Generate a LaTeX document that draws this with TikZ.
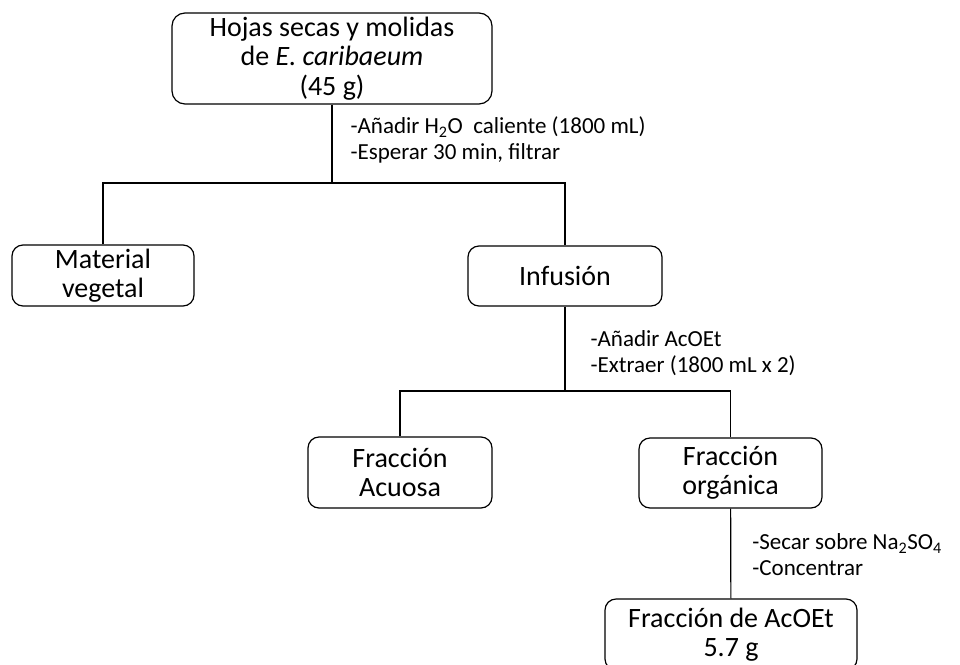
\documentclass[tikz,border=0pt]{standalone}
\usepackage{fontspec}
\setmainfont{Carlito}
\begin{document}
\begin{tikzpicture}[x=1pt,y=-1pt,
    stepbox/.style={draw,rounded corners=11pt,line width=1.2pt,align=center,
      inner sep=0pt,font=\fontsize{28}{29.5}\selectfont},
    note/.style={anchor=west,align=left,inner sep=0pt,
      font=\fontsize{23}{25.5}\selectfont}]
  \useasboundingbox (0,0) rectangle (960,664);
  \node[stepbox,minimum width=320pt,minimum height=91pt,rounded corners=13pt] (hojas) at (332,58.5)
    {Hojas secas y molidas\\de \textit{E. caribaeum}\\(45 g)};
  \node[stepbox,minimum width=182pt,minimum height=61pt] (material) at (103,275.5)
    {Material\\vegetal};
  \node[stepbox,minimum width=194pt,minimum height=60pt] (infusion) at (565,276)
    {Infusión};
  \node[stepbox,minimum width=184pt,minimum height=71pt] (acuosa) at (400,472.5)
    {Fracción\\Acuosa};
  \node[stepbox,minimum width=183pt,minimum height=70pt] (organica) at (730.5,473)
    {Fracción\\orgánica};
  \node[stepbox,minimum width=252pt,minimum height=71pt] (acoet) at (731,634.5)
    {Fracción de AcOEt\\5.7 g};
  \coordinate (split1) at (332,183);
  \coordinate (split2) at (565,391);
  \begin{scope}[line width=1.2pt]
    \draw (hojas) -- node[note,xshift=18pt,yshift=4pt]
      {-Añadir H\textsubscript{2}O\ \ caliente (1800 mL)\\-Esperar 30 min, filtrar} (split1);
    \draw (material.north) |- (split1) -| (infusion.north);
    \draw (infusion) -- node[note,xshift=25pt,yshift=-4.5pt]
      {-Añadir AcOEt\\-Extraer (1800 mL x 2)} (split2);
    \draw (acuosa.north) |- (split2) -| (organica.north);
    \draw (organica) -- node[note,xshift=21pt,yshift=-1pt]
      {-Secar sobre Na\textsubscript{2}SO\textsubscript{4}\\-Concentrar} (acoet);
  \end{scope}
\end{tikzpicture}
\end{document}
